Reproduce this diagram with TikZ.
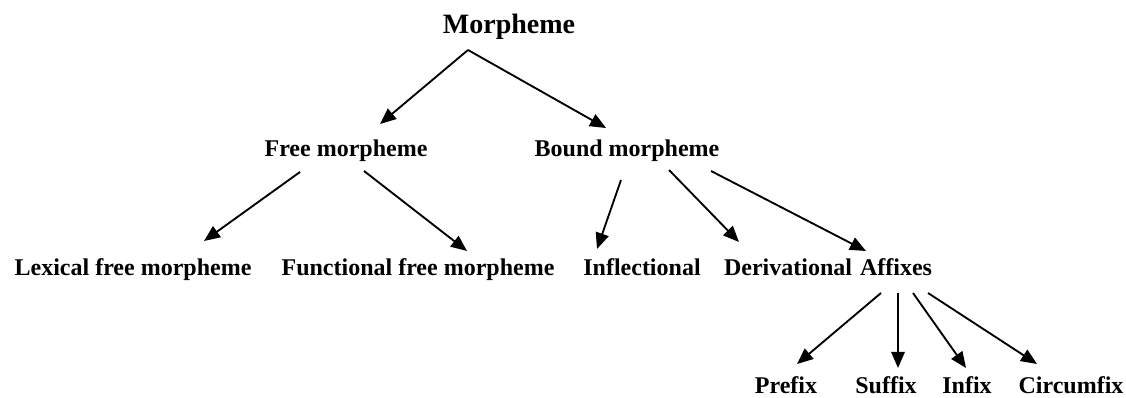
\documentclass[tikz,border=0pt]{standalone}
\usepackage{fontspec}
\setmainfont{Liberation Serif}
\usetikzlibrary{arrows.meta,calc}

\begin{document}
\begin{tikzpicture}[x=0.75pt,y=-0.75pt,
    lbl/.style={anchor=base,inner sep=0pt,font=\fontsize{18}{20}\selectfont\bfseries},
    arr/.style={line width=1.4pt,-{Triangle[length=12pt,width=10pt]}}]
            \useasboundingbox (0,0) rectangle (1126,398);

            % Root
            \node[lbl,font=\fontsize{21}{24}\selectfont\bfseries] (morph) at (509,34) {Morpheme};

            % Second level
            \node[lbl] (free) at (346,157) {Free morpheme};
            \node[lbl] (bound) at (627,157) {Bound morpheme};

            % Third level
            \node[lbl] (lex) at (133,276) {Lexical free morpheme};
            \node[lbl] (func) at (418,276) {Functional free morpheme};
            \node[lbl] (infl) at (642,276) {Inflectional};
            \node[lbl] (deriv) at (788,276) {Derivational};
            \node[lbl] (affix) at (896,276) {Affixes};

            % Kinds of affixes
            \node[lbl] (prefix) at (786,393) {Prefix};
            \node[lbl] (suffix) at (886,393) {Suffix};
            \node[lbl] (infix) at (967,393) {Infix};
            \node[lbl] (circum) at (1071,393) {Circumfix};

            % Root arrows
            \draw[arr] ($(morph.base)+(-41,16)$) -- ($(free.base)+(34,-33)$);
            \draw[arr] ($(morph.base)+(-41,16)$) -- ($(bound.base)+(-21,-29)$);

            % Free morpheme arrows
            \draw[arr] ($(free.base)+(-46,15)$) -- ($(lex.base)+(71,-35)$);
            \draw[arr] ($(free.base)+(18,14)$) -- ($(func.base)+(49,-25)$);

            % Bound morpheme arrows
            \draw[arr] ($(bound.base)+(-6,23)$) -- ($(infl.base)+(-45,-27)$);
            \draw[arr] ($(bound.base)+(42,13)$) -- ($(deriv.base)+(-49,-34)$);
            \draw[arr] ($(bound.base)+(84,14)$) -- ($(affix.base)+(-30,-25)$);

            % Affix arrows
            \foreach \from/\to/\dx/\dy in {-15/prefix/11/-29, 2/suffix/12/-25, 17/infix/-1/-25, 32/circum/-34/-29}
                \draw[arr] ($(affix.base)+(\from,17)$) -- ($(\to.base)+(\dx,\dy)$);
        \end{tikzpicture}
\end{document}
